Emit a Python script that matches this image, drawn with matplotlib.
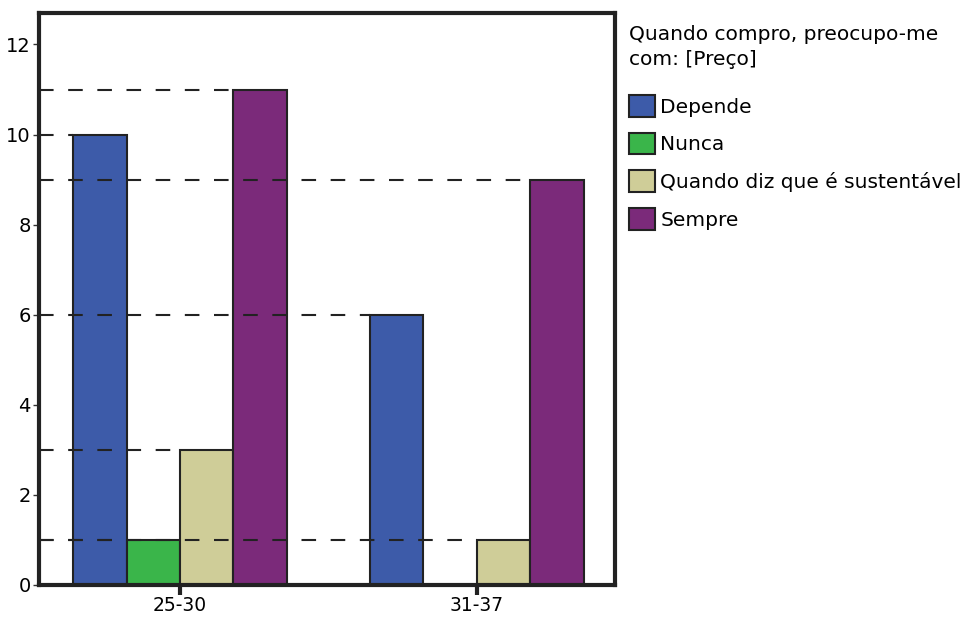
import matplotlib.pyplot as plt
import numpy as np

groups = ['25-30', '31-37']
series = ['Depende', 'Nunca', 'Quando diz que é sustentável', 'Sempre']
values = [
    [10, 6],   # Depende
    [1, 0],    # Nunca
    [3, 1],    # Quando diz que é sustentável
    [11, 9],   # Sempre
]
colors = ['#3D5BA9', '#3AB54A', '#CFCD98', '#7B2A7A']
legend_title = 'Quando compro, preocupo-me\ncom: [Preço]'

plt.rcParams['font.family'] = 'DejaVu Sans'

fig = plt.figure(figsize=(9.68, 6.17), dpi=100)
ax = fig.add_axes([0.0403, 0.0519, 0.5950, 0.9271])

x = np.arange(len(groups))
w = 0.18
xlo, xhi = -0.475, 1.465
ax.set_xlim(xlo, xhi)
ax.set_ylim(0, 12.7)

handles = []
for i, (name, vals, c) in enumerate(zip(series, values, colors)):
    pos = x + (i - 1.5) * w
    b = ax.bar(pos, vals, w, color=c, edgecolor='#222222', linewidth=1.5,
               label=name, zorder=2)
    handles.append(b)
    # dashed guide from the axis to the left edge of each bar
    for p, v in zip(pos, vals):
        if v > 0:
            ax.hlines(v, xlo, p - w / 2, colors='#222222', linewidth=1.5,
                      linestyles=(0, (7, 7)), zorder=3)

ax.set_xticks(x)
ax.set_xticklabels(groups)
ax.set_yticks([0, 2, 4, 6, 8, 10, 12])
ax.tick_params(axis='y', length=4, width=1, pad=2, labelsize=14, color='#333333')
ax.tick_params(axis='x', length=7, width=3, pad=1, labelsize=13.5, color='#222222')
for s in ax.spines.values():
    s.set_linewidth(3)
    s.set_color('#222222')

leg = fig.legend(handles=handles, labels=series, title=legend_title,
                 loc='upper left', bbox_to_anchor=(0.65, 0.96),
                 frameon=False, fontsize=14.5, title_fontsize=14.5,
                 handlelength=1.3, handleheight=1.3, handletextpad=0.25,
                 labelspacing=0.78, borderaxespad=0, borderpad=0)
leg._legend_box.align = 'left'
leg._legend_box.sep = 0.78 * 14.5 + 7  # a bit more room under the title
leg.get_title().set_linespacing(1.45)

fig.savefig('out.png', dpi=100)
